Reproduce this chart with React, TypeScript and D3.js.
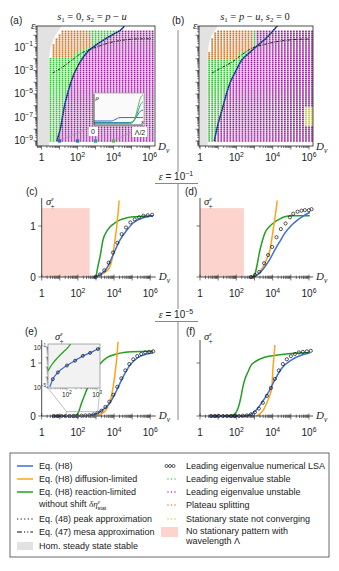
import React from "react";
import * as d3 from "d3";

const SANS = "'Liberation Sans', Arial, sans-serif";
const SERIF = "'Liberation Serif', 'Times New Roman', serif";

const BLUE = "#3d6fd6";
const ORANGE = "#ffa31a";
const GREEN = "#23a023";
const DOT_GREEN = "#2fc42f";
const DOT_PURPLE = "#9e1aa3";
const DOT_ORANGE = "#d0721c";
const DOT_YELLOW = "#d2d200";
const HOM_GRAY = "#e2e2e2";
const PINK = "#fcd4cd";
const AX = "#222";

// ---------- (a) s1 = 0, s2 = p - u   (log10 D_v, log10 eps) ----------
const h8aLogD = [0.85, 1.07, 1.25, 1.46, 1.75, 2.1, 2.5, 3.0, 3.5, 4.0, 4.5, 4.6];
const h8aLogEps = [-9.0, -7.8, -6.2, -4.9, -3.5, -2.4, -1.5, -0.85, -0.35, 0.1, 0.6, 0.79];
const mesaALogD = [0.62, 1.18, 1.7, 2.23, 2.65, 3.06, 3.5, 3.94, 4.5, 5.04, 5.6, 6.15];
const mesaALogEps = [-3.21, -2.7, -2.1, -1.51, -1.22, -1.0, -0.76, -0.57, -0.42, -0.33, -0.3, -0.3];
// scan region borders: [log eps, log D]
const grayEdgeA = [[-9.5, 0.5], [-1.9, 0.5], [-1.2, 0.6], [-0.6, 0.7], [0, 0.9], [0.4, 1.2]];
const orangeEdgeA = [[-1.8, 1.7], [-1.5, 1.9], [-1.2, 2.3], [-1.0, 2.7], [-0.5, 2.8], [0, 2.7], [0.4, 2.5]];
const purpleEdgeA = [[-9.5, 0.8], [-9.0, 0.86], [-7.8, 1.07], [-6.2, 1.25], [-4.9, 1.46], [-3.5, 1.75], [-2.4, 2.1], [-1.5, 2.5], [-0.85, 3.0], [-0.35, 3.5], [0.1, 4.0], [0.4, 4.3]];
const grayPolyA = [[-0.25, -9.43], [0.42, -9.43], [0.42, -1.9], [0.5, -1.2], [0.6, -0.6], [0.76, 0], [0.98, 0.45], [1.12, 0.79], [-0.25, 0.79]];

// ---------- (b) s1 = p - u, s2 = 0 ----------
const h8bLogD = [0.78, 0.95, 1.21, 1.45, 1.65, 1.92, 2.3, 2.64, 3.19, 3.6, 3.96, 4.25];
const h8bLogEps = [-9.0, -7.8, -6.36, -5.0, -4.06, -3.2, -2.1, -1.6, -0.83, -0.3, 0.28, 0.79];
const mesaBLogD = [0.66, 1.2, 1.76, 2.3, 2.86, 3.5, 4.12, 4.8, 5.4, 6.04];
const mesaBLogEps = [-3.21, -2.75, -2.28, -1.65, -1.09, -0.8, -0.57, -0.42, -0.34, -0.32];
const grayEdgeB = [[-9.5, 0.5], [-1.5, 0.5], [-0.6, 0.6], [0, 0.75], [0.4, 0.95]];
const orangeEdgeB = [[-2.05, 2.0], [-1.5, 2.2], [-1.25, 2.9], [0.4, 2.9]];
const purpleEdgeB = [[-9.5, 0.74], [-9.0, 0.78], [-7.8, 0.95], [-6.36, 1.21], [-5.0, 1.45], [-4.06, 1.65], [-3.2, 1.92], [-2.1, 2.3], [-1.6, 2.6], [-1.2, 2.85], [-0.8, 3.05], [0.4, 3.1]];
const grayPolyB = [[-0.06, -9.43], [0.42, -9.43], [0.42, -1.5], [0.5, -0.6], [0.65, 0], [0.85, 0.45], [0.95, 0.79], [-0.06, 0.79]];
const yellowB = { minLogD: 5.8, minLogEps: -7.8, maxLogEps: -6.1 };

// inset of (a): density profiles rho(x), x in [0, Lambda/2]
const profileX = [0, 0.35, 0.4, 0.45, 0.5, 0.55, 0.72, 0.78, 0.84, 0.9, 0.95, 1.0];
const profileD10 = [0.13, 0.13, 0.15, 0.19, 0.23, 0.24, 0.24, 0.24, 0.24, 0.24, 0.24, 0.24];
const profileD100 = [0.08, 0.08, 0.08, 0.08, 0.08, 0.08, 0.08, 0.1, 0.2, 0.35, 0.45, 0.48];
const profileD1000 = [0.06, 0.06, 0.06, 0.06, 0.06, 0.06, 0.06, 0.08, 0.2, 0.45, 0.66, 0.75];
const profileD10000 = [0.05, 0.05, 0.05, 0.05, 0.05, 0.05, 0.05, 0.07, 0.25, 0.6, 0.88, 0.97];
const profileLogD = [1, 2, 3, 4];
const profileColors = ["#3d62cc", "#2a7ea8", "#25a39c", "#58bb58"];

// ---------- (c) eps = 1e-1, s2 = p - u ----------
const cBlueD = [2.9, 3.22, 3.61, 3.94, 4.33, 4.71, 5.05, 5.6, 6.15];
const cBlueS = [0, 0.04, 0.18, 0.43, 0.73, 0.92, 1.06, 1.16, 1.2];
const cGreenD = [3.0, 3.1, 3.22, 3.39, 3.6, 3.77, 4.05, 4.33, 4.7, 5.05, 5.6, 6.15];
const cGreenS = [0, 0.2, 0.39, 0.73, 0.9, 0.98, 1.06, 1.12, 1.16, 1.18, 1.19, 1.2];
const cOrangeD = [2.95, 3.3, 3.6, 3.77, 3.92, 4.05, 4.15, 4.22, 4.28];
const cOrangeS = [0, 0.05, 0.12, 0.2, 0.4, 0.73, 1.0, 1.25, 1.5];
const cLsaD = [2.98, 3.22, 3.46, 3.7, 3.94, 4.18, 4.42, 4.66, 4.9, 5.14, 5.38, 5.62, 5.86, 6.1];
const cLsaS = [0.0, 0.05, 0.13, 0.28, 0.48, 0.67, 0.84, 0.97, 1.07, 1.13, 1.17, 1.2, 1.21, 1.22];
const cPinkLogD = 2.65;

// ---------- (d) eps = 1e-1, s1 = p - u ----------
const dBlueD = [2.85, 3.2, 3.57, 3.85, 4.12, 4.4, 4.67, 5.0, 5.38, 5.7, 6.05];
const dBlueS = [0, 0.05, 0.2, 0.35, 0.53, 0.7, 0.86, 1.0, 1.12, 1.2, 1.27];
const dGreenD = [3.0, 3.15, 3.3, 3.45, 3.57, 3.8, 4.12, 4.4, 4.67, 5.0, 5.4, 6.04];
const dGreenS = [0, 0.25, 0.53, 0.73, 0.86, 0.98, 1.08, 1.14, 1.18, 1.2, 1.2, 1.2];
const dOrangeD = [2.85, 3.2, 3.57, 3.75, 3.85, 4.0, 4.1, 4.2, 4.25];
const dOrangeS = [0, 0.06, 0.27, 0.42, 0.53, 0.86, 1.1, 1.35, 1.5];
const dLsaD = [2.8, 3.02, 3.26, 3.53, 3.75, 3.97, 4.21, 4.45, 4.71, 4.95, 5.13, 5.37, 5.59, 5.77, 5.99, 6.14];
const dLsaS = [0, 0.04, 0.1, 0.27, 0.43, 0.59, 0.78, 0.94, 1.05, 1.17, 1.24, 1.28, 1.3, 1.31, 1.31, 1.33];
const dPinkLogD = 2.42;
const pinkTop = 1.35;

// ---------- (e) eps = 1e-5, s2 = p - u ----------
const eBlueD = [0.6, 1.5, 2.0, 2.5, 2.9, 3.22, 3.5, 3.77, 4.15, 4.5, 4.88, 5.27, 5.8, 6.15];
const eBlueS = [0, 0, 0, 0.005, 0.03, 0.08, 0.15, 0.25, 0.49, 0.74, 0.96, 1.09, 1.17, 1.19];
const eGreenD = [1.4, 1.85, 2.0, 2.2, 2.4, 2.58, 2.8, 3.0, 3.22, 3.6, 4.15, 5.0, 6.15];
const eGreenS = [0, 0.01, 0.05, 0.24, 0.42, 0.57, 0.75, 0.88, 0.98, 1.1, 1.17, 1.21, 1.22];
const eOrangeD = [3.0, 3.3, 3.6, 3.8, 3.95, 4.05, 4.15, 4.22];
const eOrangeS = [0, 0.04, 0.14, 0.3, 0.55, 0.8, 1.1, 1.4];
const eLsaD = [0.66, 0.88, 1.1, 1.32, 1.54, 1.76, 1.98, 2.2, 2.42, 2.64, 2.86, 3.08, 3.3, 3.52, 3.74, 3.96, 4.18, 4.4, 4.62, 4.84, 5.06, 5.28, 5.5, 5.72, 5.94, 6.16];
const eLsaS = [0, 0, 0, 0, 0, 0, 0, 0.005, 0.01, 0.015, 0.03, 0.06, 0.1, 0.17, 0.27, 0.4, 0.55, 0.71, 0.86, 0.98, 1.07, 1.13, 1.17, 1.2, 1.21, 1.22];
// log-log zoom inset of (e)
const eInsetBlueD = [1.43, 1.53, 1.7, 2.0, 2.27, 2.53, 2.77, 3.03, 3.1];
const eInsetBlueS = [-5.0, -4.22, -3.54, -2.85, -2.37, -1.88, -1.59, -1.2, -1.12];
const eInsetLsaD = [1.53, 1.7, 2.0, 2.27, 2.53, 2.77, 3.03];
const eInsetLsaS = [-4.22, -3.54, -2.85, -2.37, -1.88, -1.59, -1.2];
const eInsetGreenD = [1.37, 1.5, 1.7, 1.88, 2.03, 2.12];
const eInsetGreenS = [-3.4, -2.75, -2.04, -1.5, -1.07, -0.7];

// ---------- (f) eps = 1e-5, s1 = p - u ----------
const fBlueD = [0.55, 1.5, 2.2, 2.6, 3.0, 3.4, 3.74, 4.12, 4.5, 5.05, 5.6, 6.04];
const fBlueS = [0, 0, 0, 0.01, 0.08, 0.25, 0.43, 0.68, 0.9, 1.06, 1.15, 1.19];
const fGreenD = [1.4, 1.75, 1.95, 2.1, 2.25, 2.36, 2.5, 2.64, 2.8, 3.02, 3.57, 4.29, 5.38, 6.05];
const fGreenS = [0, 0.01, 0.05, 0.15, 0.35, 0.55, 0.72, 0.83, 0.95, 1.02, 1.11, 1.15, 1.19, 1.2];
const fOrangeD = [3.1, 3.3, 3.5, 3.68, 3.85, 3.96, 4.01, 4.08, 4.12];
const fOrangeS = [0, 0.04, 0.12, 0.25, 0.4, 0.55, 0.87, 1.15, 1.34];
const fLsaD = [0.6, 0.82, 1.04, 1.26, 1.48, 1.7, 1.92, 2.14, 2.36, 2.58, 2.8, 3.02, 3.24, 3.46, 3.68, 3.9, 4.12, 4.34, 4.56, 4.78, 5.0, 5.22, 5.44, 5.66, 5.88, 6.1];
const fLsaS = [0, 0, 0, 0, 0, 0, 0, 0, 0.005, 0.01, 0.03, 0.07, 0.14, 0.25, 0.38, 0.53, 0.7, 0.86, 0.98, 1.07, 1.13, 1.17, 1.2, 1.21, 1.22, 1.23];

// scan grid of the LSA (log10 values)
const scanLogD = d3.range(0.5, 6.2, 1 / 6);
const scanLogEps = d3.range(-9, 0.4, 1 / 6);

const zip = (a: number[], b: number[]) => a.map((v, i) => [v, b[i]] as [number, number]);

const edgeAt = (pts: number[][], le: number) => {
  if (le <= pts[0][0]) return pts[0][1];
  for (let i = 1; i < pts.length; i++) {
    if (le <= pts[i][0]) {
      const t = (le - pts[i - 1][0]) / (pts[i][0] - pts[i - 1][0]);
      return pts[i - 1][1] + t * (pts[i][1] - pts[i - 1][1]);
    }
  }
  return pts[pts.length - 1][1];
};

function Pow({ x, y, exp, size = 10, anchor = "middle" }: any) {
  return (
    <text x={x} y={y} fontSize={size} textAnchor={anchor} fontFamily={SANS} fill={AX}>
      10<tspan dy={-size * 0.42} fontSize={size * 0.68}>{exp}</tspan>
    </text>
  );
}

function DvLabel({ x, y }: any) {
  return (
    <text x={x} y={y} fontFamily={SERIF} fontSize={11} fontStyle="italic" fill={AX}>
      D<tspan dy={2.5} fontSize={7.5}>v</tspan>
    </text>
  );
}

function SigmaLabel({ x, y }: any) {
  return (
    <text x={x} y={y} fontFamily={SERIF} fontSize={10.5} fontStyle="italic" fill={AX}>
      σ<tspan dy={-4.5} fontSize={6.5}>ε</tspan>
      <tspan dx={-3.2} dy={8} fontSize={7.5} fontStyle="normal">+</tspan>
    </text>
  );
}

function logTicks(scale: any, kMin: number, kMax: number) {
  const [d0, d1] = scale.domain();
  const out: { v: number; major: boolean; k: number }[] = [];
  for (let k = kMin; k <= kMax; k++) {
    for (let m = 1; m <= 9; m++) {
      const v = m * Math.pow(10, k);
      if (v < d0 * 0.999 || v > d1 * 1.001) continue;
      out.push({ v, major: m === 1, k });
    }
  }
  return out;
}

function XAxisLog({ scale, y, inout, labelY, labels }: any) {
  const ticks = logTicks(scale, -1, 6);
  return (
    <g>
      {ticks.map((t, i) => {
        const x = scale(t.v);
        const len = t.major ? 3.5 : 2;
        return <line key={i} x1={x} x2={x} y1={inout ? y - len * 0.7 : y} y2={y + len} stroke={AX} strokeWidth={0.6} />;
      })}
      {labels.map((k: number) =>
        k === 0 ? (
          <text key={k} x={scale(1)} y={labelY} fontSize={10} textAnchor="middle" fontFamily={SANS} fill={AX}>1</text>
        ) : (
          <Pow key={k} x={scale(Math.pow(10, k))} y={labelY} exp={k} />
        )
      )}
    </g>
  );
}

function MapPanel(p: any) {
  const x = d3.scaleLog().domain([10 ** p.lo, 10 ** p.hi]).range([p.x0, p.x1]);
  const y = d3.scaleLog().domain([10 ** -9.43, 10 ** 0.79]).range([146, 26]);
  const X = (ld: number) => x(10 ** ld);
  const Y = (le: number) => y(10 ** le);
  const line = d3.line<[number, number]>().x((d) => X(d[0])).y((d) => Y(d[1])).curve(d3.curveMonotoneX);
  const gray = "M" + p.grayPoly.map((d: number[]) => `${X(d[0])},${Y(d[1])}`).join("L") + "Z";

  const dots: any[] = [];
  scanLogEps.forEach((le, r) => {
    scanLogD.forEach((ld, c) => {
      if (ld < edgeAt(p.grayEdge, le) - 1e-6) return;
      let col = DOT_GREEN;
      if (ld >= edgeAt(p.purpleEdge, le)) {
        col = DOT_PURPLE;
        if (p.yellow && ld >= p.yellow.minLogD && le >= p.yellow.minLogEps && le <= p.yellow.maxLogEps) col = DOT_YELLOW;
      } else if (le >= p.orangeMin && ld <= edgeAt(p.orangeEdge, le)) col = DOT_ORANGE;
      dots.push(<rect key={`${r}-${c}`} x={X(ld) - 0.9} y={Y(le) - 0.75} width={1.8} height={1.5} fill={col} />);
    });
  });

  const yTicks = logTicks(y, -10, 0);
  const clip = `clip-${p.id}`;
  return (
    <g>
      <defs>
        <clipPath id={clip}>
          <rect x={p.x0} y={26} width={p.x1 - p.x0} height={120} />
        </clipPath>
      </defs>
      <path d={gray} fill={HOM_GRAY} />
      <g>{dots}</g>
      <g clipPath={`url(#${clip})`}>
        <path d={line(zip(p.h8D, p.h8E)) || ""} fill="none" stroke={BLUE} strokeWidth={1.6} />
        <path d={line(zip(p.h8D, p.h8E)) || ""} fill="none" stroke="#111" strokeWidth={1.1} strokeDasharray="1.1,1.1" />
        <path d={line(zip(p.mesaD, p.mesaE)) || ""} fill="none" stroke="#111" strokeWidth={0.9} strokeDasharray="2.6,1.3,0.8,1.3" />
      </g>
      {p.children}
      <rect x={p.x0} y={26} width={p.x1 - p.x0} height={120} fill="none" stroke={AX} strokeWidth={0.8} />
      {yTicks.map((t, i) => {
        const yy = y(t.v);
        const len = t.major ? 3.5 : 1.8;
        return <line key={i} x1={p.x0 - len} x2={p.x0} y1={yy} y2={yy} stroke={AX} strokeWidth={0.6} />;
      })}
      {p.showYLabels &&
        [-1, -3, -5, -7, -9].map((k) => (
          <Pow key={k} x={p.x0 - 4} y={y(10 ** k) + 3.5} exp={`−${-k}`} anchor="end" />
        ))}
      <XAxisLog scale={x} y={146} inout={false} labelY={161} labels={[0, 2, 4, 6]} />
      <text x={p.x0 - 6} y={29} fontFamily={SERIF} fontStyle="italic" fontSize={11} fill={AX}>ε</text>
      <DvLabel x={p.x1 + 3} y={150} />
      <text x={p.tagX} y={24} fontFamily={SANS} fontSize={10} fill={AX}>{p.tag}</text>
      {p.title}
      {p.markers && p.markers(X, Y)}
    </g>
  );
}

function InsetA({ X, Y }: any) {
  const ix0 = 94, ix1 = 143, iy0 = 125, iy1 = 94;
  const sx = d3.scaleLinear().domain([0, 1]).range([ix0, ix1]);
  const sy = d3.scaleLinear().domain([0, 1]).range([iy0, iy1]);
  const line = d3.line<[number, number]>().x((d) => sx(d[0])).y((d) => sy(d[1])).curve(d3.curveMonotoneX);
  const profiles = [profileD10, profileD100, profileD1000, profileD10000];
  const mx = profileLogD.map((ld) => X(ld));
  const my = Y(-9);
  return (
    <g>
      <line x1={93} y1={126} x2={mx[0]} y2={my} stroke="#999" strokeWidth={0.6} />
      <line x1={144} y1={126} x2={mx[3]} y2={my} stroke="#999" strokeWidth={0.6} />
      <rect x={93} y={93} width={51} height={33} fill="#fafafa" stroke="#999" strokeWidth={0.7} />
      <rect x={89} y={127} width={9} height={9} fill="#fff" />
      <rect x={132} y={127} width={15} height={10} fill="#fff" />
      {profiles.map((pr, i) => (
        <path key={i} d={line(zip(profileX, pr)) || ""} fill="none" stroke={profileColors[i]} strokeWidth={1} />
      ))}
      <line x1={ix0} y1={iy0} x2={ix1} y2={iy0} stroke={AX} strokeWidth={0.8} />
      <line x1={ix0} y1={iy0} x2={ix0} y2={iy1} stroke={AX} strokeWidth={0.8} />
      <text x={95.5} y={100} fontFamily={SERIF} fontStyle="italic" fontSize={7} fill={AX}>ρ</text>
      <text x={141} y={124} fontFamily={SERIF} fontStyle="italic" fontSize={7} fill={AX}>x</text>
      <text x={93} y={134} fontFamily={SANS} fontSize={7} textAnchor="middle" fill={AX}>0</text>
      <text x={140} y={135} fontFamily={SANS} fontSize={7} textAnchor="middle" fill={AX}>Λ/2</text>
      {mx.map((xx, i) => (
        <rect key={i} x={xx - 1.7} y={my - 1.7} width={3.4} height={3.4} fill={profileColors[i]} />
      ))}
    </g>
  );
}

function SigmaPanel(p: any) {
  const x = d3.scaleLog().domain([1, 10 ** p.hi]).range([p.x0, p.x1]);
  const y = d3.scaleLinear().domain([0, 1]).range([p.y0, p.y1]);
  const X = (ld: number) => x(10 ** ld);
  const line = d3.line<[number, number]>().x((d) => X(d[0])).y((d) => y(d[1])).curve(d3.curveMonotoneX);
  return (
    <g>
      {p.pink !== undefined && (
        <rect x={p.x0} y={y(pinkTop)} width={X(p.pink) - p.x0} height={p.y0 - y(pinkTop)} fill={PINK} />
      )}
      <path d={line(zip(p.green[0], p.green[1])) || ""} fill="none" stroke={GREEN} strokeWidth={1.5} />
      <path d={line(zip(p.orange[0], p.orange[1])) || ""} fill="none" stroke={ORANGE} strokeWidth={1.5} />
      <path d={line(zip(p.blue[0], p.blue[1])) || ""} fill="none" stroke={BLUE} strokeWidth={1.5} />
      {p.lsa[0].map((ld: number, i: number) => (
        <circle key={i} cx={X(ld)} cy={y(p.lsa[1][i])} r={1.6} fill="none" stroke="#111" strokeWidth={0.7} />
      ))}
      <line x1={p.x0} x2={p.x0} y1={p.top} y2={p.y0} stroke={AX} strokeWidth={0.8} />
      <line x1={p.x0} x2={p.x1} y1={p.y0} y2={p.y0} stroke={AX} strokeWidth={0.8} />
      {[0, 1].map((v) => (
        <line key={v} x1={p.x0 - 3.5} x2={p.x0} y1={y(v)} y2={y(v)} stroke={AX} strokeWidth={0.6} />
      ))}
      {p.yLabels &&
        [0, 1].map((v) => (
          <text key={v} x={p.x0 - 6} y={y(v) + 3.5} fontSize={10} textAnchor="end" fontFamily={SANS} fill={AX}>{v}</text>
        ))}
      <XAxisLog scale={x} y={p.y0} inout={true} labelY={p.y0 + 20} labels={[0, 2, 4, 6]} />
      <DvLabel x={p.x1 + 3} y={p.y0 + 3} />
      <text x={p.tagX} y={p.tagY} fontFamily={SANS} fontSize={10} fill={AX}>{p.tag}</text>
      {p.children && p.children(X, y)}
      <SigmaLabel x={p.sigX} y={p.sigY} />
    </g>
  );
}

function InsetE({ X, y }: any) {
  const bx0 = 48, bx1 = 100, by0 = 388, by1 = 344;
  const ix = d3.scaleLog().domain([10 ** 1.37, 10 ** 3.1]).range([bx0, bx1]);
  const iy = d3.scaleLog().domain([10 ** -5.1, 10 ** -0.7]).range([by0, by1]);
  const line = d3.line<[number, number]>().x((d) => ix(10 ** d[0])).y((d) => iy(10 ** d[1])).curve(d3.curveMonotoneX);
  const rx0 = X(1.37), rx1 = X(3.1), ry = y(0.08);
  const xt = logTicks(ix, 1, 3);
  const yt = logTicks(iy, -6, -1);
  return (
    <g>
      <rect x={rx0} y={ry} width={rx1 - rx0} height={y(0) - ry} fill="none" stroke="#999" strokeWidth={0.6} />
      <line x1={bx0} y1={by0} x2={rx0} y2={ry} stroke="#999" strokeWidth={0.6} />
      <line x1={bx1} y1={by0} x2={rx1} y2={ry} stroke="#999" strokeWidth={0.6} />
      <rect x={bx0} y={by1} width={bx1 - bx0} height={by0 - by1} fill="#f2f2f2" stroke="#888" strokeWidth={0.7} />
      <defs>
        <clipPath id="clip-inset-e">
          <rect x={bx0} y={by1} width={bx1 - bx0} height={by0 - by1} />
        </clipPath>
      </defs>
      <g clipPath="url(#clip-inset-e)">
        <path d={line(zip(eInsetGreenD, eInsetGreenS)) || ""} fill="none" stroke={GREEN} strokeWidth={1.3} />
        <path d={line(zip(eInsetBlueD, eInsetBlueS)) || ""} fill="none" stroke={BLUE} strokeWidth={1.3} />
        {eInsetLsaD.map((ld, i) => (
          <circle key={i} cx={ix(10 ** ld)} cy={iy(10 ** eInsetLsaS[i])} r={1.5} fill="none" stroke="#111" strokeWidth={0.7} />
        ))}
      </g>
      {xt.map((t, i) => (
        <line key={i} x1={ix(t.v)} x2={ix(t.v)} y1={by0} y2={by0 + (t.major ? 2.5 : 1.4)} stroke="#555" strokeWidth={0.5} />
      ))}
      {yt.map((t, i) => (
        <line key={i} x1={bx0 - (t.major ? 2.5 : 1.4)} x2={bx0} y1={iy(t.v)} y2={iy(t.v)} stroke="#555" strokeWidth={0.5} />
      ))}
      <Pow x={ix(100)} y={by0 + 9} exp={2} size={6.5} />
      <Pow x={ix(1000)} y={by0 + 9} exp={3} size={6.5} />
      <Pow x={bx0 - 2} y={iy(0.1) + 2.5} exp="−1" size={6.5} anchor="end" />
      <Pow x={bx0 - 2} y={iy(1e-5) + 2.5} exp="−5" size={6.5} anchor="end" />
    </g>
  );
}

function EpsHeader({ y, exp }: any) {
  return (
    <g>
      <text x={176} y={y} textAnchor="middle" fontFamily={SANS} fontSize={10} fill={AX}>
        <tspan fontFamily={SERIF} fontStyle="italic">ε</tspan> = 10<tspan dy={-4} fontSize={7}>{exp}</tspan>
      </text>
      <line x1={155} x2={198} y1={y + 3.5} y2={y + 3.5} stroke="#888" strokeWidth={1} />
    </g>
  );
}

function Legend() {
  const lx0 = 17, lx1 = 33, tx = 39, rx = 186;
  const rows = [466, 479, 492, 505, 519, 532, 546];
  const t = (x: number, y: number, s: any) => (
    <text x={x} y={y + 3.2} fontFamily={SANS} fontSize={9} fill={AX}>{s}</text>
  );
  const dotsMarker = (y: number, c: string) =>
    [168, 171.5, 175].map((xx, i) => <rect key={i} x={xx - 0.6} y={y - 0.6} width={1.2} height={1.2} fill={c} />);
  return (
    <g>
      <rect x={10} y={453} width={319} height={104} fill="#fff" stroke="#444" strokeWidth={0.8} />
      <line x1={lx0} x2={lx1} y1={rows[0]} y2={rows[0]} stroke={BLUE} strokeWidth={1.5} />
      {t(tx, rows[0], "Eq. (H8)")}
      <line x1={lx0} x2={lx1} y1={rows[1]} y2={rows[1]} stroke={ORANGE} strokeWidth={1.5} />
      {t(tx, rows[1], "Eq. (H8) diffusion-limited")}
      <line x1={lx0} x2={lx1} y1={rows[2]} y2={rows[2]} stroke={GREEN} strokeWidth={1.5} />
      {t(tx, rows[2], "Eq. (H8) reaction-limited")}
      <text x={tx} y={504 + 3.2} fontFamily={SANS} fontSize={9} fill={AX}>
        without shift <tspan fontFamily={SERIF} fontStyle="italic">δη</tspan>
        <tspan dy={-3.5} fontSize={6} fontFamily={SERIF} fontStyle="italic">ε</tspan>
        <tspan dx={-2.6} dy={6} fontSize={5.5}>stat</tspan>
      </text>
      <line x1={lx0} x2={lx1} y1={rows[4]} y2={rows[4]} stroke="#111" strokeWidth={1.2} strokeDasharray="1.2,2.4" />
      {t(tx, rows[4], "Eq. (48) peak approximation")}
      <line x1={lx0} x2={lx1} y1={rows[5]} y2={rows[5]} stroke="#111" strokeWidth={1.2} strokeDasharray="5,2,1.2,2,1.2,2" />
      {t(tx, rows[5], "Eq. (47) mesa approximation")}
      <rect x={lx0} y={rows[6] - 4} width={lx1 - lx0} height={8} fill={HOM_GRAY} />
      {t(tx, rows[6], "Hom. steady state stable")}

      {[166.5, 170, 173.5].map((xx, i) => (
        <circle key={i} cx={xx} cy={rows[0]} r={1.5} fill="none" stroke="#111" strokeWidth={0.7} />
      ))}
      {t(rx, rows[0], "Leading eigenvalue numerical LSA")}
      {dotsMarker(rows[1], DOT_GREEN)}
      {t(rx, rows[1], "Leading eigenvalue stable")}
      {dotsMarker(rows[2], DOT_PURPLE)}
      {t(rx, rows[2], "Leading eigenvalue unstable")}
      {dotsMarker(505, DOT_ORANGE)}
      {t(rx, 505, "Plateau splitting")}
      {dotsMarker(519, DOT_YELLOW)}
      {t(rx, 519, "Stationary state not converging")}
      <rect x={161} y={527} width={17} height={10} fill={PINK} />
      {t(rx, 531, "No stationary pattern with")}
      {t(rx, 541, "wavelength Λ")}
    </g>
  );
}

function Title({ x, first }: any) {
  return (
    <text x={x} y={20} textAnchor="middle" fontFamily={SERIF} fontSize={10.5} fill={AX}>
      {first ? (
        <>
          <tspan fontStyle="italic">s</tspan><tspan fontSize={7} dy={2}>1</tspan>
          <tspan dy={-2}> = 0, </tspan>
          <tspan fontStyle="italic">s</tspan><tspan fontSize={7} dy={2}>2</tspan>
          <tspan dy={-2}> = </tspan><tspan fontStyle="italic">p</tspan> − <tspan fontStyle="italic">u</tspan>
        </>
      ) : (
        <>
          <tspan fontStyle="italic">s</tspan><tspan fontSize={7} dy={2}>1</tspan>
          <tspan dy={-2}> = </tspan><tspan fontStyle="italic">p</tspan> − <tspan fontStyle="italic">u</tspan>,{" "}
          <tspan fontStyle="italic">s</tspan><tspan fontSize={7} dy={2}>2</tspan>
          <tspan dy={-2}> = 0</tspan>
        </>
      )}
    </text>
  );
}

export default function App() {
  return (
    <svg width={339} height={571} style={{ position: "absolute", left: 0, top: 0, background: "#fff" }}>
      {/* divider between left and right columns */}
      <line x1={178} x2={178} y1={30} y2={172} stroke="#888" strokeWidth={1} />
      <line x1={178} x2={178} y1={183} y2={309} stroke="#888" strokeWidth={1} />
      <line x1={178} x2={178} y1={322} y2={420} stroke="#888" strokeWidth={1} />
      <EpsHeader y={180} exp="−1" />
      <EpsHeader y={318} exp="−5" />

      <MapPanel
        id="a" x0={37} x1={155} lo={-0.25} hi={6.3} tag="(a)" tagX={10}
        h8D={h8aLogD} h8E={h8aLogEps} mesaD={mesaALogD} mesaE={mesaALogEps}
        grayPoly={grayPolyA} grayEdge={grayEdgeA} orangeEdge={orangeEdgeA} orangeMin={-1.85}
        purpleEdge={purpleEdgeA} showYLabels={true}
        title={<Title x={92} first={true} />}
        markers={(X: any, Y: any) => <InsetA X={X} Y={Y} />}
      />
      <MapPanel
        id="b" x0={199} x1={313} lo={-0.06} hi={6.22} tag="(b)" tagX={172}
        h8D={h8bLogD} h8E={h8bLogEps} mesaD={mesaBLogD} mesaE={mesaBLogEps}
        grayPoly={grayPolyB} grayEdge={grayEdgeB} orangeEdge={orangeEdgeB} orangeMin={-2.05}
        purpleEdge={purpleEdgeB} yellow={yellowB} showYLabels={false}
        title={<Title x={255} first={false} />}
      />

      <SigmaPanel
        x0={41.7} x1={155.7} hi={6.3} y0={277} y1={226} top={198} pink={cPinkLogD}
        blue={[cBlueD, cBlueS]} green={[cGreenD, cGreenS]} orange={[cOrangeD, cOrangeS]} lsa={[cLsaD, cLsaS]}
        yLabels={true} tag="(c)" tagX={26} tagY={195} sigX={46} sigY={205}
      />
      <SigmaPanel
        x0={200} x1={313} hi={6.22} y0={277} y1={226} top={198} pink={dPinkLogD}
        blue={[dBlueD, dBlueS]} green={[dGreenD, dGreenS]} orange={[dOrangeD, dOrangeS]} lsa={[dLsaD, dLsaS]}
        yLabels={false} tag="(d)" tagX={185} tagY={195} sigX={204} sigY={205}
      />
      <SigmaPanel
        x0={41.7} x1={155.7} hi={6.3} y0={416} y1={363} top={340}
        blue={[eBlueD, eBlueS]} green={[eGreenD, eGreenS]} orange={[eOrangeD, eOrangeS]} lsa={[eLsaD, eLsaS]}
        yLabels={true} tag="(e)" tagX={25} tagY={335} sigX={55} sigY={340}
      >
        {(X: any, y: any) => <InsetE X={X} y={y} />}
      </SigmaPanel>
      <SigmaPanel
        x0={200} x1={313} hi={6.22} y0={416} y1={363} top={340}
        blue={[fBlueD, fBlueS]} green={[fGreenD, fGreenS]} orange={[fOrangeD, fOrangeS]} lsa={[fLsaD, fLsaS]}
        yLabels={false} tag="(f)" tagX={186} tagY={335} sigX={204} sigY={340}
      />

      <Legend />
    </svg>
  );
}
